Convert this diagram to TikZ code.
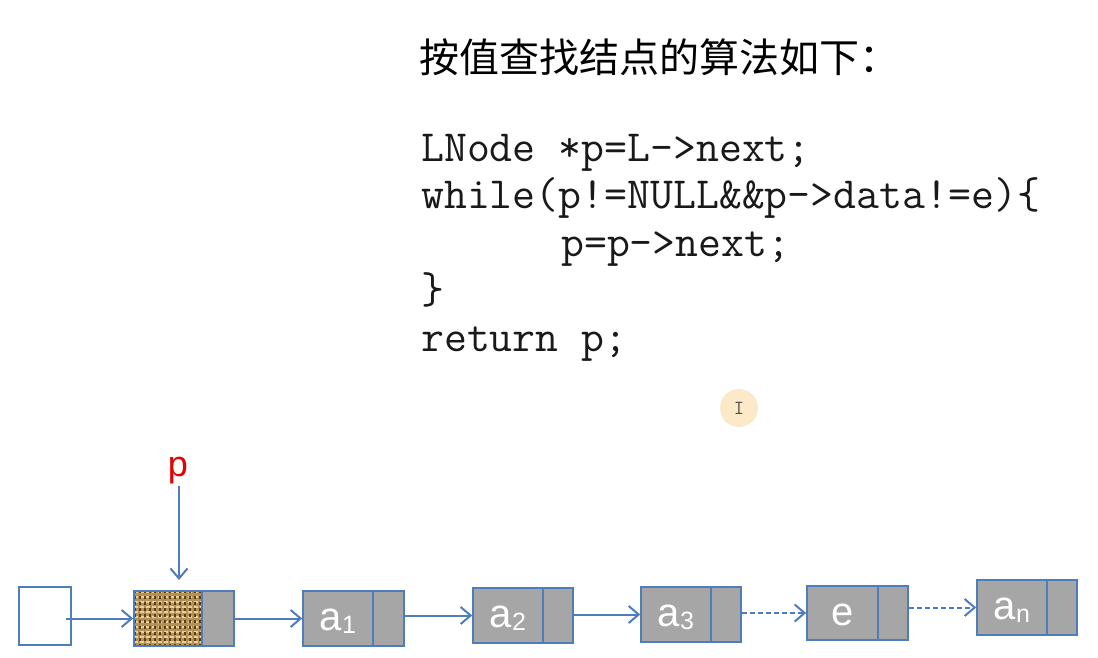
\documentclass[tikz,border=0pt]{standalone}
\usepackage{fontspec}
\setmainfont{Liberation Sans}
\newfontfamily\cjk{Noto Sans CJK SC}
\usetikzlibrary{arrows.meta,calc}
\definecolor{lnblue}{RGB}{79,123,191}
\definecolor{lngray}{RGB}{166,166,166}
\definecolor{codeblk}{RGB}{25,25,25}
\definecolor{pred}{RGB}{230,0,0}
\definecolor{tan}{RGB}{180,145,85}
\definecolor{tanlight}{RGB}{232,208,150}
\definecolor{tandark}{RGB}{90,62,28}
\definecolor{cursorbg}{RGB}{252,233,200}
\tikzset{
  arr/.style={draw=lnblue, line width=2pt, -{Straight Barb[length=10pt,width=17pt,line width=2pt]}},
  darr/.style={arr, dash pattern=on 5pt off 3pt},
  datapart/.style={draw=lnblue, fill=lngray, line width=1.6pt, minimum width=70pt, minimum height=55pt, inner sep=0pt, text=white, text height=24pt, text depth=0pt, font=\fontsize{40}{40}\selectfont},
  ptrpart/.style={draw=lnblue, fill=lngray, line width=1.6pt, minimum width=31pt, minimum height=55pt, inner sep=0pt},
  headbox/.style={draw=lnblue, fill=white, line width=1.2pt, minimum width=52pt, minimum height=58pt, inner sep=0pt},
  codeline/.style={anchor=base west, inner sep=0pt, text=codeblk, font=\ttfamily\fontsize{44.5}{48}\selectfont},
}
\newcommand{\sbs}[1]{\raisebox{-3pt}{\fontsize{25}{25}\selectfont #1}}
\begin{document}
\begin{tikzpicture}[x=1pt,y=-1pt]
\useasboundingbox[fill=white] (0,0) rectangle (1098,658);
% title
\node[anchor=west, inner sep=0pt, font=\cjk\fontsize{40}{44}\selectfont] (title) at (419,57) {按值查找结点的算法如下：};
% code
\node[codeline] (c1) at (421,161) {LNode *p=L->next;};
\node[codeline] (c2) at (421,208.5) {while(p!=NULL\&\&p->data!=e)\{};
\node[codeline] (c3) at (561,256) {p=p->next;};
\node[codeline] (c4) at (421,303.5) {\}};
\node[codeline] (c5) at (421,351) {return p;};
% cursor highlight
\node[circle, fill=cursorbg, minimum size=38pt, inner sep=0pt, text=black!70, font=\ttfamily\fontsize{20}{20}\selectfont] (cur) at (739,408) {I};
% head node
\node[headbox] (h) at (45,616) {};
\coordinate (hs) at (66,618.5);
% node 0 (textured)
\node[datapart, minimum width=68pt, fill=tan] (n0d) at (168,618.5) {};
\begin{scope}
\clip (n0d.south west) rectangle (n0d.north east);
\foreach \yy in {592,597,...,650} {
  \draw[tanlight, line width=2.2pt, dash pattern=on 4pt off 2pt] (134,\yy) -- (202,\yy);
}
\foreach \xx in {135,140,...,205} {
  \draw[tandark, line width=1.1pt, dash pattern=on 3pt off 3pt] (\xx,590) -- (\xx,648);
}
\end{scope}
\node[draw=lnblue, line width=1.6pt, minimum width=68pt, minimum height=55pt, inner sep=0pt] (n0f) at (168,618.5) {};
\node[ptrpart, minimum width=32pt] (n0p) at (218,618.5) {};
% a1
\node[datapart] (a1d) at (338,618.5) {a\sbs{1}};
\node[ptrpart] (a1p) at (388.5,618.5) {};
% a2
\node[datapart] (a2d) at (508,615.5) {a\sbs{2}};
\node[ptrpart, minimum width=30pt] (a2p) at (558,615.5) {};
% a3
\node[datapart] (a3d) at (676,614.5) {a\sbs{3}};
\node[ptrpart, minimum width=30pt] (a3p) at (726,614.5) {};
% e
\node[datapart, minimum width=71pt, minimum height=54pt] (ed) at (842.5,613) {e};
\node[ptrpart, minimum width=30pt, minimum height=54pt] (ep) at (893,613) {};
% an
\node[datapart] (and) at (1012,607.5) {a\sbs{n}};
\node[ptrpart, minimum width=30pt] (anp) at (1062,607.5) {};
% pointer p
\node[text=pred, font=\fontsize{36}{36}\selectfont, inner sep=1pt] (p) at (178,471) {p};
\coordinate (ptip) at (179,580);
% connectors
\draw[arr] (p.south -| ptip) -- (ptip);
\draw[arr] (hs) -- (n0f.west);
\draw[arr] (n0p.east) -- (a1d.west);
\draw[arr] (a1p.east |- a2d.west) -- (a2d.west);
\draw[arr] (a2p.east |- a3d.west) -- (a3d.west);
\draw[darr] (a3p.east |- ed.west) -- (ed.west);
\draw[darr] (ep.east |- and.west) -- (and.west);
\end{tikzpicture}
\end{document}
